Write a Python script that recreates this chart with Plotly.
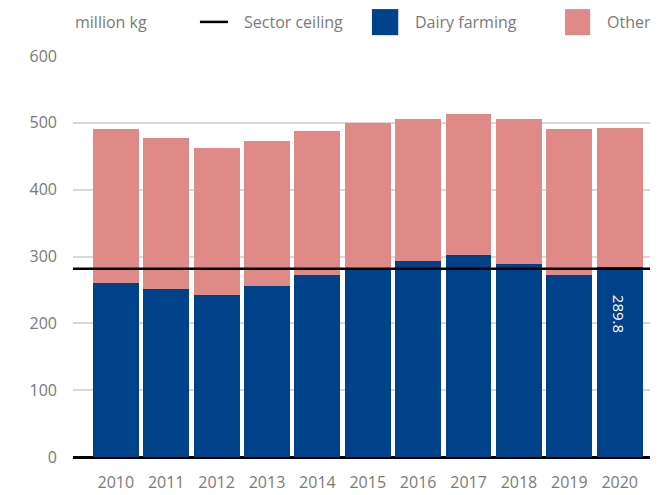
import plotly.graph_objects as go

years = ["2010", "2011", "2012", "2013", "2014", "2015", "2016", "2017", "2018", "2019", "2020"]
dairy = [260, 251.5, 242.5, 256, 272, 283, 293, 302, 289, 273, 285]
other = [231, 226, 220, 217, 216, 217, 213, 211.5, 217, 218, 207.5]
label_2020 = "289.8"
sector_ceiling = 281.8

BLUE = "#004289"
PINK = "#df8a86"
GREY = "#7a7a7a"
FONT = "Open Sans"

fig = go.Figure()

fig.add_trace(go.Bar(x=years, y=dairy, name="Dairy farming",
                     marker=dict(color=BLUE, line=dict(width=0))))
fig.add_trace(go.Bar(x=years, y=other, name="Other",
                     marker=dict(color=PINK, line=dict(width=0))))

# rotated value label inside the last dairy bar (x as category index,
# a "2020" string would be read as a number)
fig.add_annotation(x=len(years) - 1, y=dairy[-1], text=label_2020,
                   textangle=90, showarrow=False, yanchor="top", yshift=-26,
                   font=dict(color="white", size=15, family=FONT))

# sector ceiling line across the whole plot
fig.add_shape(type="line", xref="paper", x0=0, x1=1, yref="y",
              y0=sector_ceiling, y1=sector_ceiling,
              line=dict(color="black", width=2.5), layer="above")

# hand-made legend row on top
fig.add_shape(type="line", xref="paper", yref="paper",
              x0=0.217, x1=0.265, y0=1.085, y1=1.085,
              line=dict(color="black", width=2.5))
fig.add_shape(type="rect", xref="paper", yref="paper",
              x0=0.511, x1=0.556, y0=1.052, y1=1.117,
              fillcolor=BLUE, line=dict(width=0))
fig.add_shape(type="rect", xref="paper", yref="paper",
              x0=0.841, x1=0.884, y0=1.052, y1=1.117,
              fillcolor=PINK, line=dict(width=0))

legend_texts = [("million kg", 0.0), ("Sector ceiling", 0.289),
                ("Dairy farming", 0.581), ("Other", 0.909)]
for txt, xp in legend_texts:
    fig.add_annotation(text=txt, xref="paper", yref="paper", x=xp, y=1.085,
                       xanchor="left", yanchor="middle", showarrow=False,
                       font=dict(size=16, color=GREY, family=FONT))

# page body has an 8px margin, so size/margins are trimmed by that much
fig.update_layout(
    barmode="stack",
    bargap=0.09,
    width=650, height=487,
    margin=dict(l=65, r=0, t=48, b=38),
    plot_bgcolor="white", paper_bgcolor="white",
    showlegend=False,
    font=dict(family=FONT, color=GREY, size=16),
)
fig.update_xaxes(type="category", range=[-0.85, 10.76],
                 showgrid=False, showline=False, ticks="",
                 ticklabelstandoff=14,
                 tickfont=dict(size=16, color=GREY))
fig.update_yaxes(range=[0, 600], dtick=100,
                 showgrid=True, gridcolor="#d9d9d9", gridwidth=1.5,
                 zeroline=True, zerolinecolor="black", zerolinewidth=2.5,
                 ticks="", ticklabelstandoff=15,
                 tickfont=dict(size=16, color=GREY))

fig.write_html("out.html")
